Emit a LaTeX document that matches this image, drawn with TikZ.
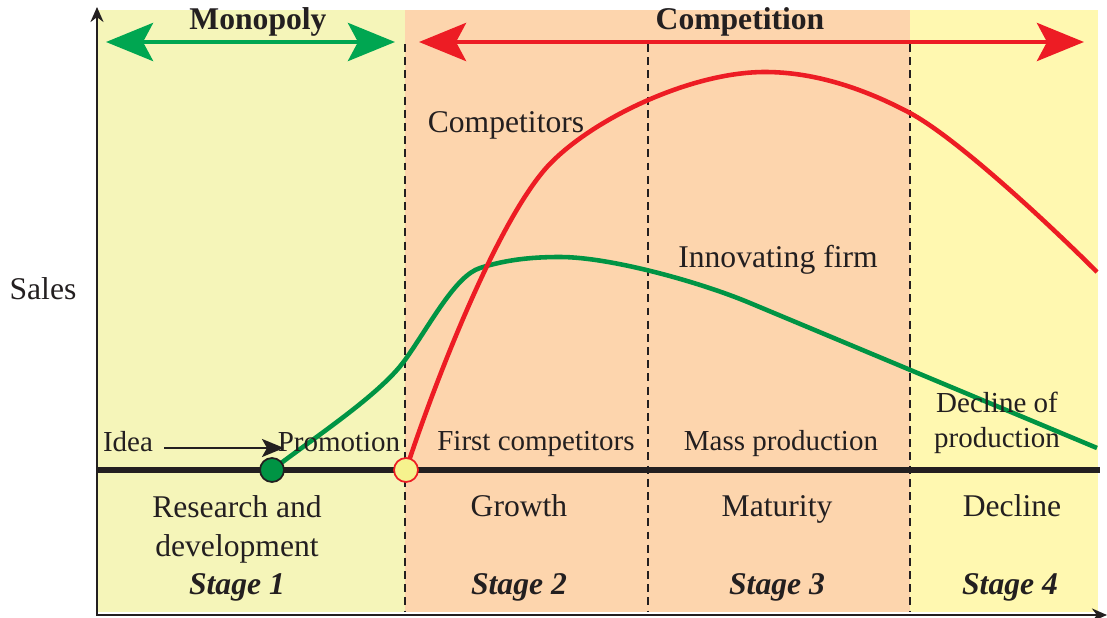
\documentclass[tikz,border=0pt]{standalone}
\usepackage{fontspec}
\setmainfont{Liberation Serif}
\usepackage{xcolor}
\usetikzlibrary{arrows.meta}
\definecolor{txt}{HTML}{231F20}
\definecolor{monobg}{HTML}{F5F5B9}
\definecolor{compbg}{HTML}{FDD5AD}
\definecolor{declbg}{HTML}{FFF8B0}
\definecolor{firmgreen}{HTML}{009444}
\definecolor{arrgreen}{HTML}{00A651}
\definecolor{compred}{HTML}{ED1C24}
\definecolor{dotyellow}{HTML}{F6F28E}

\begin{document}
\begin{tikzpicture}[x=0.02cm,y=-0.02cm,
  every node/.style = {inner sep=0pt, text=txt,
                       font=\fontsize{16.5}{22.7}\selectfont},
  lbl/.style        = {anchor=base, align=center},
  biglbl/.style     = {lbl, font=\fontsize{18}{22.7}\selectfont},
  stagelbl/.style   = {anchor=base, font=\fontsize{18}{22.7}\selectfont\bfseries\itshape},
  period/.style     = {anchor=base, font=\fontsize{18}{22}\selectfont\bfseries},
  divider/.style    = {txt, line width=1.1pt, dash pattern=on 4.5pt off 3pt},
  span/.style       = {line width=2.8pt, {Stealth[length=0.94cm,width=0.76cm,inset=0.2cm]}-{Stealth[length=0.94cm,width=0.76cm,inset=0.2cm]}},
  curve/.style      = {line width=2.6pt},
  dot/.style        = {circle, draw, line width=1pt, minimum size=0.48cm},
  ]
  \useasboundingbox (0,0) rectangle (1107,618);
  % phases
  \fill[monobg] (97,10) rectangle (405,612);
  \fill[compbg] (405,10) rectangle (910,612);
  \fill[declbg] (910,10) rectangle (1098,612);
  \foreach \x in {405,648,910}
    \draw[divider] (\x,44) -- (\x,612);

  % period arrows
  \node[period] (mono) at (258,30) {Monopoly};
  \node[period] (comp) at (740,30) {Competition};
  \draw[span, arrgreen] (106,42) -- (395,42);
  \draw[span, compred] (419,42) -- (1084,42);

  % sales curves
  \coordinate (gstart) at (272,470);
  \coordinate (rstart) at (406,470);
  \draw[curve, firmgreen] (gstart) .. controls (312,439) and (380,395) .. (405,360)
    .. controls (430,325) and (455,276) .. (480,268)
    .. controls (505,260) and (530,257) .. (560,257)
    .. controls (610,257) and (700,282) .. (750,303) -- (1097,448);
  \draw[curve, compred] (rstart) .. controls (432,390) and (495,225) .. (547,167)
    .. controls (590,120) and (690,72) .. (765,72)
    .. controls (815,72) and (865,89) .. (910,113)
    .. controls (960,140) and (1057,232) .. (1097,272);

  % axes
  \draw[line width=3.4pt, txt] (97,470) -- (1100,470);
  \draw[line width=1.7pt, txt, {Stealth[length=0.3cm,width=0.26cm]}-{Stealth[length=0.3cm,width=0.26cm]}]
    (97,7) -- (97,615) -- (1107,615);

  \node[dot, fill=firmgreen, draw=txt] (gdot) at (gstart) {};
  \node[dot, fill=dotyellow, draw=compred] (rdot) at (rstart) {};

  % labels above the line
  \node[biglbl] (sales) at (43,300) {Sales};
  \node[biglbl] (competitors) at (506,133) {Competitors};
  \node[biglbl] (firm) at (778,268) {Innovating firm};
  \node[lbl] (idea) at (128,452) {Idea};
  \node[lbl] (promo) at (339,452) {Promotion};
  \node[lbl] (first) at (536,451) {First competitors};
  \node[lbl] (mass) at (781,451) {Mass production};
  \node[lbl, font=\fontsize{16.5}{20.4}\selectfont] (declprod) at (997,448) {Decline of\\production};
  \coordinate (ideatip) at (284,448);
  \draw[line width=1.3pt, txt, -{Stealth[length=0.44cm,width=0.36cm,inset=0.1cm]}]
    ([shift={(11,-4)}]idea.base east) -- (ideatip);

  % stages
  \node[biglbl] (rnd) at (237,557) {Research and\\development};
  \node[biglbl] (growth) at (519,517) {Growth};
  \node[biglbl] (maturity) at (777,517) {Maturity};
  \node[biglbl] (decline) at (1012,517) {Decline};
  \node[stagelbl] (s1) at (237,595) {Stage 1};
  \node[stagelbl] (s2) at (519,595) {Stage 2};
  \node[stagelbl] (s3) at (777,595) {Stage 3};
  \node[stagelbl] (s4) at (1010,595) {Stage 4};
\end{tikzpicture}
\end{document}
